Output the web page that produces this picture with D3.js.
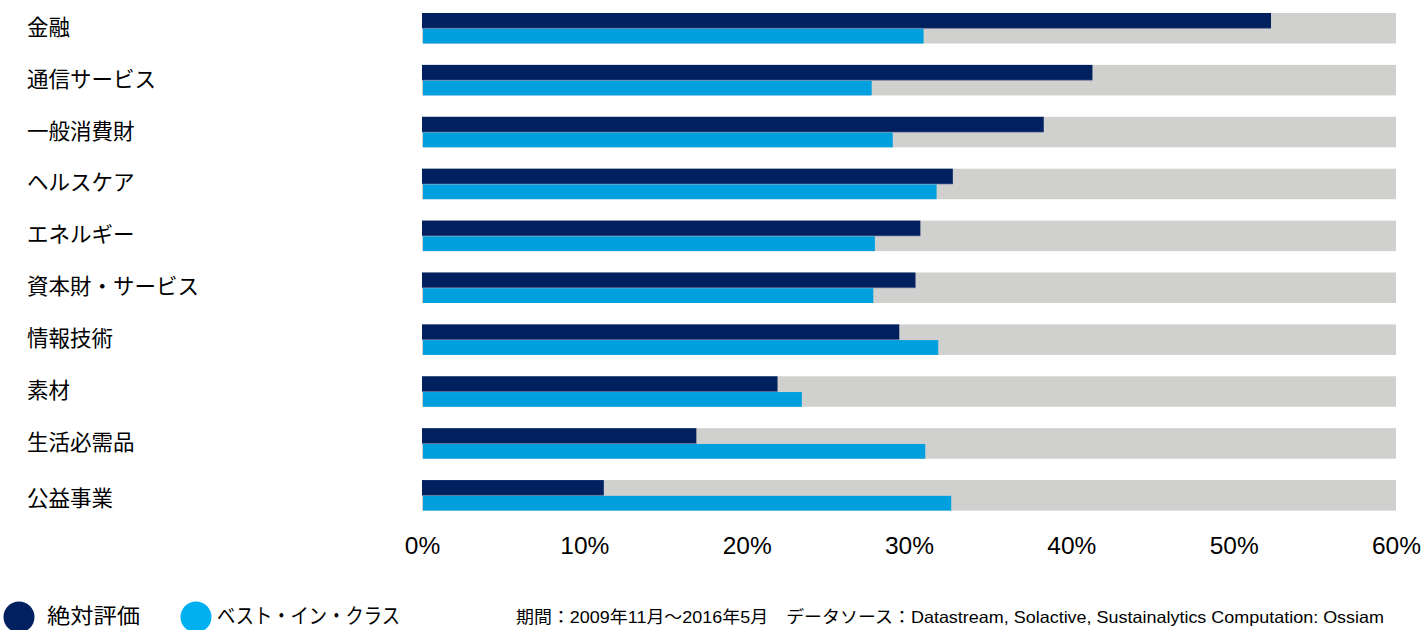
<!DOCTYPE html>
<html lang="ja">
<head>
<meta charset="utf-8">
<script src="https://cdn.jsdelivr.net/npm/d3@7/dist/d3.min.js"></script>
<style>
  html, body { margin: 0; padding: 0; background: #ffffff; }
  svg { display: block; }
</style>
</head>
<body>
<svg id="chart" width="1423" height="630"></svg>
<script>
// Sector names, top to bottom
const sectors = ["金融", "通信サービス", "一般消費財", "ヘルスケア", "エネルギー",
                 "資本財・サービス", "情報技術", "素材", "生活必需品", "公益事業"];
// Share of each sector (%), absolute screening
const absoluteValues = [52.3, 41.3, 38.3, 32.7, 30.7, 30.4, 29.4, 21.9, 16.9, 11.2];
// Share of each sector (%), best-in-class screening
const bestInClassValues = [30.9, 27.7, 29.0, 31.7, 27.9, 27.8, 31.8, 23.4, 31.0, 32.6];
// Axis
const axisMax = 60;
const tickValues = [0, 10, 20, 30, 40, 50, 60];
// Series labels
const seriesNames = ["絶対評価", "ベスト・イン・クラス"];
const footnote = "期間：2009年11月～2016年5月　データソース：Datastream, Solactive, Sustainalytics Computation: Ossiam";

const colors = { absolute: "#002060", best: "#00A0DF", track: "#D0D0CF",
                 legendAbsolute: "#002060", legendBest: "#00B0F0" };
const jpFont = "'Noto Sans CJK JP', 'Noto Sans', sans-serif";
const numFont = "'Liberation Sans', Arial, sans-serif";

const svg = d3.select("#chart");

const x = d3.scaleLinear().domain([0, axisMax]).range([422, 1396]);
const y = d3.scaleBand().domain(sectors).range([13, 510.6])
  .paddingInner(0.412).paddingOuter(0);
const sub = d3.scaleBand().domain(["absolute", "best"]).range([0, y.bandwidth()]);

const rows = sectors.map((s, i) => ({ sector: s, absolute: absoluteValues[i], best: bestInClassValues[i] }));

const g = svg.append("g");

// grey full-range tracks behind each pair of bars
g.selectAll("rect.track").data(rows).join("rect")
  .attr("class", "track")
  .attr("x", x(0))
  .attr("y", d => y(d.sector))
  .attr("width", x(axisMax) - x(0))
  .attr("height", y.bandwidth())
  .attr("fill", colors.track);

// absolute screening bars
g.selectAll("rect.abs").data(rows).join("rect")
  .attr("class", "abs")
  .attr("x", x(0))
  .attr("y", d => y(d.sector) + sub("absolute"))
  .attr("width", d => x(d.absolute) - x(0))
  .attr("height", sub.bandwidth())
  .attr("fill", colors.absolute);

// thin shade under the dark bars
g.selectAll("rect.shade").data(rows).join("rect")
  .attr("class", "shade")
  .attr("x", x(0))
  .attr("y", d => y(d.sector) + sub("best") - 0.5)
  .attr("width", d => x(d.absolute) - x(0))
  .attr("height", 1)
  .attr("fill", "#5a6190")
  .attr("opacity", 0.6);

// best-in-class bars
g.selectAll("rect.best").data(rows).join("rect")
  .attr("class", "best")
  .attr("x", x(0) + 1)
  .attr("y", d => y(d.sector) + sub("best") + 0.5)
  .attr("width", d => x(d.best) - x(0) - 1)
  .attr("height", sub.bandwidth() - 0.5)
  .attr("fill", colors.best);

// sector labels
g.selectAll("text.cat").data(rows).join("text")
  .attr("class", "cat")
  .attr("x", 27)
  .attr("y", (d, i) => y(d.sector) + y.bandwidth() / 2 - 3 + (i === sectors.length - 1 ? 4 : 0))
  .attr("dominant-baseline", "central")
  .attr("font-family", jpFont)
  .attr("font-size", 21.5)
  .attr("fill", "#000")
  .text(d => d.sector);

// x axis (labels only)
const axis = d3.axisBottom(x)
  .tickValues(tickValues)
  .tickFormat(d => d + "%")
  .tickSize(0)
  .tickPadding(0);
const axisG = svg.append("g").attr("transform", "translate(0,537)").call(axis);
axisG.select(".domain").remove();
axisG.selectAll("text")
  .attr("font-family", numFont)
  .attr("font-size", 24.5)
  .attr("fill", "#000")
  .attr("dy", "0.71em");

// legend
const legend = svg.append("g");
const legendItems = [
  { name: seriesNames[0], color: colors.legendAbsolute, cx: 19, tx: 47, len: 93 },
  { name: seriesNames[1], color: colors.legendBest, cx: 196, tx: 217, len: 183 }
];
legend.selectAll("circle").data(legendItems).join("circle")
  .attr("cx", d => d.cx).attr("cy", 617).attr("r", 15.5)
  .attr("fill", d => d.color);
legend.selectAll("text").data(legendItems).join("text")
  .attr("x", d => d.tx).attr("y", 614)
  .attr("dominant-baseline", "central")
  .attr("font-family", jpFont)
  .attr("font-size", 21)
  .attr("textLength", d => d.len)
  .attr("lengthAdjust", "spacingAndGlyphs")
  .attr("fill", "#000")
  .text(d => d.name);

// source note
svg.append("text")
  .attr("x", 516).attr("y", 617)
  .attr("dominant-baseline", "central")
  .attr("font-family", "'Liberation Sans', 'Noto Sans CJK JP', sans-serif")
  .attr("font-size", 16.5)
  .attr("textLength", 868)
  .attr("lengthAdjust", "spacingAndGlyphs")
  .attr("fill", "#000")
  .text(footnote);
</script>
</body>
</html>
